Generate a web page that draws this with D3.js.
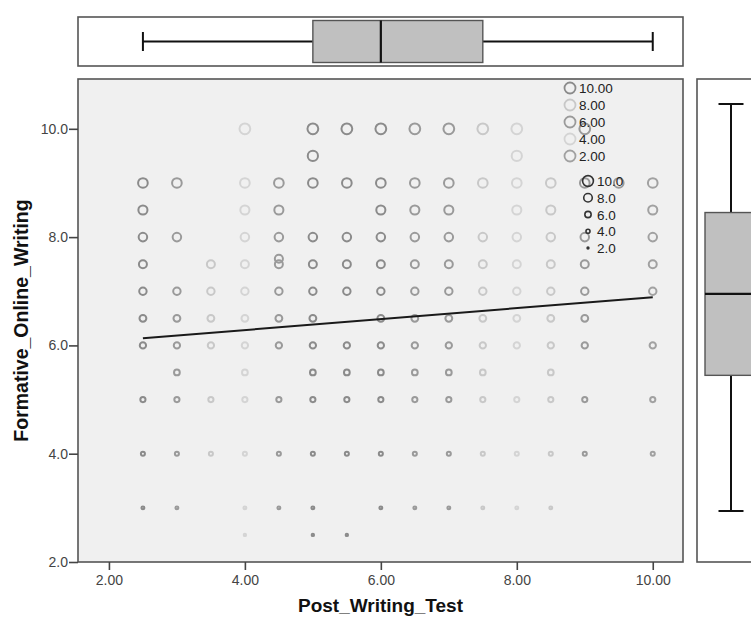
<!DOCTYPE html>
<html>
<head>
<meta charset="utf-8">
<script src="https://cdn.jsdelivr.net/npm/d3@7"></script>
<style>
  body { margin: 0; background: #fff; }
  svg { display: block; font-family: "Liberation Sans", Arial, sans-serif; }
</style>
</head>
<body>
<div id="chart"></div>
<script>
// valores
const xTicks = [2, 4, 6, 8, 10];
const yTicks = [2, 4, 6, 8, 10];

// columnas de Post_Writing_Test y su grupo de color
const xLevels = [2.5, 3, 3.5, 4, 4.5, 5, 5.5, 6, 6.5, 7, 7.5, 8, 8.5, 9, 9.5, 10];
const xGroup  = [10, 6, 8, 4, 6, 10, 10, 10, 6, 6, 8, 4, 8, 6, 6, 2];

// filas de Formative_Online_Writing y los valores x presentes en cada una
const yLevels = [10, 9.5, 9, 8.5, 8, 7.6, 7.5, 7, 6.5, 6, 5.5, 5, 4, 3, 2.5];
const xsAtLevel = [
  [4, 5, 5.5, 6, 6.5, 7, 7.5, 8, 9],
  [5, 8],
  [2.5, 3, 4, 4.5, 5, 5.5, 6, 6.5, 7, 7.5, 8, 8.5, 9, 9.5, 10],
  [2.5, 4, 4.5, 6, 6.5, 7, 8, 8.5, 10],
  [2.5, 3, 4, 4.5, 5, 5.5, 6, 6.5, 7, 7.5, 8, 8.5, 9, 10],
  [4.5],
  [2.5, 3.5, 4, 4.5, 5, 5.5, 6, 6.5, 7, 7.5, 8, 8.5, 9, 10],
  [2.5, 3, 3.5, 4, 4.5, 5, 5.5, 6, 6.5, 7, 7.5, 8, 8.5, 9, 10],
  [2.5, 3, 3.5, 4, 4.5, 5, 6, 6.5, 7, 7.5, 8, 8.5, 9],
  [2.5, 3, 3.5, 4, 4.5, 5, 5.5, 6, 6.5, 7, 7.5, 8, 8.5, 9, 10],
  [3, 4, 5, 5.5, 6, 6.5, 7, 7.5, 8.5],
  [2.5, 3, 3.5, 4, 4.5, 5, 5.5, 6, 6.5, 7, 7.5, 8, 8.5, 9, 10],
  [2.5, 3, 3.5, 4, 4.5, 5, 5.5, 6, 6.5, 7, 7.5, 8, 8.5, 9, 10],
  [2.5, 3, 4, 4.5, 5, 6, 6.5, 7, 7.5, 8, 8.5],
  [4, 5, 5.5]
];

// leyendas
const colorLegend = [10, 8, 6, 4, 2];
const colorShades = ["#8b8b8b", "#c8c8c8", "#9a9a9a", "#d4d4d4", "#a1a1a1"];
const sizeLegend = [10, 8, 6, 4, 2];

// recta de ajuste
const fitIntercept = 5.88;
const fitSlope = 0.101;
const fitRange = [2.5, 10];

// boxplots marginales [min, q1, mediana, q3, max]
const xBox = [2.5, 5, 6, 7.5, 10];
const yBox = [2.5, 5, 6.5, 8, 10];

// Configuración
var W = 751, H = 619;
var plot = { left: 78, right: 683, top: 79, bottom: 562 };

var svg = d3.select("#chart").append("svg")
  .attr("width", W).attr("height", H);

var x = d3.scaleLinear().domain([1.545, 10.445]).range([plot.left, plot.right]);
var y = d3.scaleLinear().domain([2, 10.92]).range([plot.bottom, plot.top]);
var r = d3.scaleLinear().domain([2, 10]).range([0.9, 5.4]);
var color = d3.scaleOrdinal().domain(colorLegend).range(colorShades);

// fondo del area de puntos
svg.append("rect")
  .attr("x", plot.left).attr("y", plot.top)
  .attr("width", plot.right - plot.left).attr("height", plot.bottom - plot.top)
  .attr("fill", "#f0f0f0");

// puntos
var points = [];
yLevels.forEach(function(yv, i) {
  xsAtLevel[i].forEach(function(xv) {
    points.push({ x: xv, y: yv, g: xGroup[xLevels.indexOf(xv)] });
  });
});

svg.append("g").selectAll("circle")
  .data(points)
  .enter().append("circle")
  .attr("cx", d => x(d.x))
  .attr("cy", d => y(d.y))
  .attr("r", d => r(d.y))
  .attr("fill", "none")
  .attr("stroke", d => color(d.g))
  .attr("stroke-width", 2);

// recta
var line = d3.line().x(d => x(d)).y(d => y(fitIntercept + fitSlope * d));
svg.append("path")
  .attr("d", line(fitRange))
  .attr("fill", "none")
  .attr("stroke", "#1a1a1a")
  .attr("stroke-width", 2);

// leyenda de color
var lg = svg.append("g");
var legY = d3.scalePoint().domain(colorLegend).range([88, 156]);
lg.selectAll("circle").data(colorLegend).enter().append("circle")
  .attr("cx", 570).attr("cy", d => legY(d))
  .attr("r", 5.5).attr("fill", "none")
  .attr("stroke", d => color(d)).attr("stroke-width", 1.8);
lg.selectAll("text").data(colorLegend).enter().append("text")
  .attr("x", 579).attr("y", d => legY(d) + 5)
  .attr("font-size", 13.5).attr("fill", "#222")
  .text(d => d3.format(".2f")(d));

// leyenda de tamaño
var sg = svg.append("g");
var sizeY = d3.scalePoint().domain(sizeLegend).range([181, 248]);
sg.selectAll("circle").data(sizeLegend).enter().append("circle")
  .attr("cx", 588).attr("cy", d => sizeY(d))
  .attr("r", d => r(d)).attr("fill", "none")
  .attr("stroke", "#333").attr("stroke-width", 1.6);
sg.selectAll("text").data(sizeLegend).enter().append("text")
  .attr("x", 597).attr("y", d => sizeY(d) + 5)
  .attr("font-size", 13.5).attr("fill", "#222")
  .text(d => d3.format(".1f")(d));

// borde del grafico
svg.append("rect")
  .attr("x", plot.left).attr("y", plot.top)
  .attr("width", plot.right - plot.left).attr("height", plot.bottom - plot.top)
  .attr("fill", "none").attr("stroke", "#555").attr("stroke-width", 1.6);

// ejes
var xAxis = svg.append("g")
  .attr("transform", "translate(0," + plot.bottom + ")")
  .call(d3.axisBottom(x).tickValues(xTicks).tickFormat(d3.format(".2f")).tickSize(8).tickPadding(5));
var yAxis = svg.append("g")
  .attr("transform", "translate(" + plot.left + ",0)")
  .call(d3.axisLeft(y).tickValues(yTicks).tickFormat(d3.format(".1f")).tickSize(9).tickPadding(1));
[xAxis, yAxis].forEach(function(a) {
  a.select(".domain").remove();
  a.selectAll(".tick line").attr("stroke", "#444").attr("stroke-width", 1.6);
  a.selectAll(".tick text").attr("font-size", 14).attr("fill", "#444")
    .attr("font-family", "Liberation Sans, Arial, sans-serif");
});

// titulos de ejes
svg.append("text")
  .attr("x", (plot.left + plot.right) / 2).attr("y", 612)
  .attr("text-anchor", "middle").attr("font-weight", "bold")
  .attr("font-size", 19).attr("fill", "#111")
  .text("Post_Writing_Test");
svg.append("text")
  .attr("transform", "translate(28," + (plot.top + plot.bottom) / 2 + ") rotate(-90)")
  .attr("text-anchor", "middle").attr("font-weight", "bold")
  .attr("font-size", 19.5).attr("fill", "#111")
  .text("Formative_Online_Writing");

// boxplot superior
var topPanel = { y0: 17, y1: 66 };
var tc = (topPanel.y0 + topPanel.y1) / 2;
var tb = svg.append("g");
tb.append("rect").attr("x", plot.left).attr("y", topPanel.y0)
  .attr("width", plot.right - plot.left).attr("height", topPanel.y1 - topPanel.y0)
  .attr("fill", "#fff").attr("stroke", "#555").attr("stroke-width", 1.6);
tb.append("line").attr("x1", x(xBox[0])).attr("x2", x(xBox[1]))
  .attr("y1", tc).attr("y2", tc).attr("stroke", "#111").attr("stroke-width", 2);
tb.append("line").attr("x1", x(xBox[3])).attr("x2", x(xBox[4]))
  .attr("y1", tc).attr("y2", tc).attr("stroke", "#111").attr("stroke-width", 2);
[xBox[0], xBox[4]].forEach(function(v) {
  tb.append("line").attr("x1", x(v)).attr("x2", x(v))
    .attr("y1", tc - 9.5).attr("y2", tc + 9.5).attr("stroke", "#111").attr("stroke-width", 2);
});
tb.append("rect").attr("x", x(xBox[1])).attr("y", tc - 21)
  .attr("width", x(xBox[3]) - x(xBox[1])).attr("height", 42)
  .attr("fill", "#c0c0c0").attr("stroke", "#555").attr("stroke-width", 1.4);
tb.append("line").attr("x1", x(xBox[2])).attr("x2", x(xBox[2]))
  .attr("y1", tc - 21).attr("y2", tc + 21).attr("stroke", "#111").attr("stroke-width", 2.2);

// boxplot derecho
var yR = d3.scaleLinear().domain([2.5, 10]).range([511, 104]);
var rightPanel = { x0: 697, x1: 775 };
var rc = 731;
var rb = svg.append("g");
rb.append("rect").attr("x", rightPanel.x0).attr("y", plot.top)
  .attr("width", rightPanel.x1 - rightPanel.x0).attr("height", plot.bottom - plot.top)
  .attr("fill", "#fff").attr("stroke", "#555").attr("stroke-width", 1.6);
rb.append("line").attr("x1", rc).attr("x2", rc)
  .attr("y1", yR(yBox[0])).attr("y2", yR(yBox[1])).attr("stroke", "#111").attr("stroke-width", 2);
rb.append("line").attr("x1", rc).attr("x2", rc)
  .attr("y1", yR(yBox[3])).attr("y2", yR(yBox[4])).attr("stroke", "#111").attr("stroke-width", 2);
[yBox[0], yBox[4]].forEach(function(v) {
  rb.append("line").attr("x1", rc - 12.5).attr("x2", rc + 12.5)
    .attr("y1", yR(v)).attr("y2", yR(v)).attr("stroke", "#111").attr("stroke-width", 2);
});
rb.append("rect").attr("x", rc - 26).attr("y", yR(yBox[3]))
  .attr("width", 52).attr("height", yR(yBox[1]) - yR(yBox[3]))
  .attr("fill", "#c0c0c0").attr("stroke", "#555").attr("stroke-width", 1.4);
rb.append("line").attr("x1", rc - 26).attr("x2", rc + 26)
  .attr("y1", yR(yBox[2])).attr("y2", yR(yBox[2])).attr("stroke", "#111").attr("stroke-width", 2.2);
</script>
</body>
</html>
